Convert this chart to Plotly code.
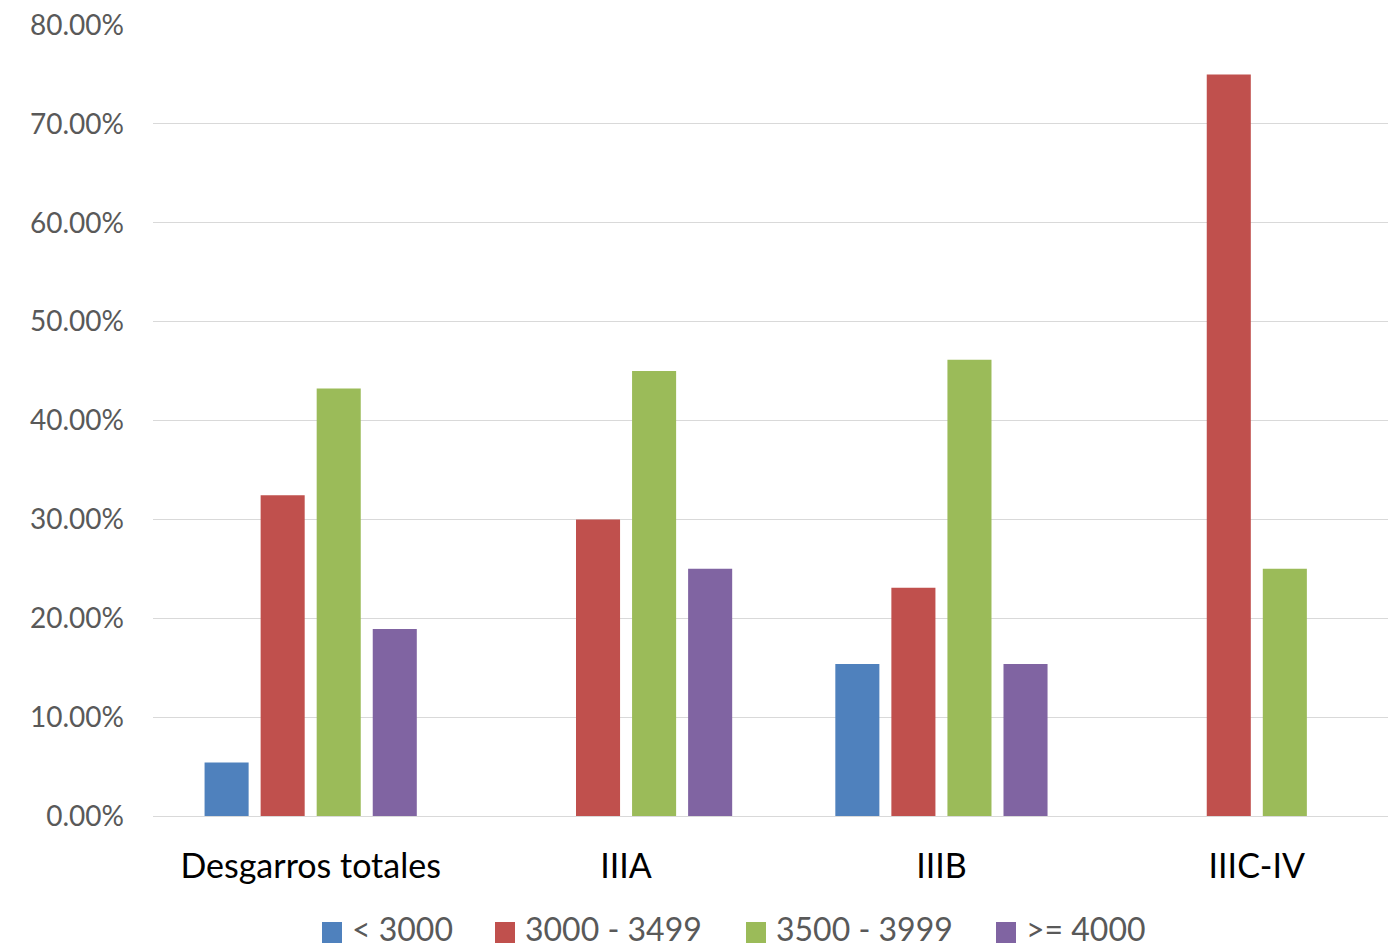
import plotly.graph_objects as go

categories = ["Desgarros totales", "IIIA", "IIIB", "IIIC-IV"]
series_names = ["< 3000", "3000 - 3499", "3500 - 3999", ">= 4000"]
lt3000 = [0.0541, None, 0.1538, None]
s3000_3499 = [0.3243, 0.30, 0.2308, 0.75]
s3500_3999 = [0.4324, 0.45, 0.4615, 0.25]
ge4000 = [0.1892, 0.25, 0.1538, None]
colors = ["#4F81BD", "#C0504D", "#9BBB59", "#8064A2"]
yticks = [0, 0.1, 0.2, 0.3, 0.4, 0.5, 0.6, 0.7, 0.8]

W, H = 1388, 950
ML, MR, MT, MB = 153, 0, 25, 134
PW, PH = W - ML - MR, H - MT - MB

def px_x(px):
    return (px - ML) / PW

def px_y(py):
    return (H - MB - py) / PH

fig = go.Figure()
for name, vals, col in zip(series_names, [lt3000, s3000_3499, s3500_3999, ge4000], colors):
    fig.add_trace(go.Bar(name=name, x=categories, y=vals, showlegend=False,
                         marker=dict(color=col, line=dict(width=0))))

# legend drawn manually (Excel-like large square keys)
legend_left = [322, 495, 746, 996]
shapes, annots = [], []
for name, col, lx in zip(series_names, colors, legend_left):
    shapes.append(dict(type="rect", xref="paper", yref="paper",
                       x0=px_x(lx), x1=px_x(lx + 20), y0=px_y(943), y1=px_y(922),
                       fillcolor=col, line=dict(width=0)))
    annots.append(dict(xref="paper", yref="paper", x=px_x(lx + 29), y=px_y(949),
                       xanchor="left", yanchor="bottom", text=name, showarrow=False,
                       borderpad=0, font=dict(size=32, color="#595959")))

fig.update_layout(
    width=W, height=H,
    margin=dict(l=ML, r=MR, t=MT, b=MB, autoexpand=False),
    paper_bgcolor="white", plot_bgcolor="white",
    barmode="group", bargap=0.289, bargroupgap=0.214,
    font=dict(family="Lato, Open Sans, sans-serif", color="#595959"),
    showlegend=False,
    shapes=shapes, annotations=annots,
    xaxis=dict(range=[-0.5, 3.416], showgrid=False, showline=False, zeroline=False,
               ticks="outside", ticklen=20, tickcolor="rgba(0,0,0,0)",
               tickfont=dict(size=34, color="#000000")),
    yaxis=dict(range=[0, 0.8], tickvals=yticks, tickformat=".2%", showgrid=True,
               gridcolor="#D9D9D9", gridwidth=1.3, zeroline=True, zerolinecolor="#D9D9D9",
               zerolinewidth=1.3, showline=False, ticks="", ticklabelstandoff=28,
               tickfont=dict(size=28, color="#595959")),
)
fig.write_html("out.html", config={"displayModeBar": False},
               post_script="document.body.style.margin='0';document.body.style.overflow='hidden';")
